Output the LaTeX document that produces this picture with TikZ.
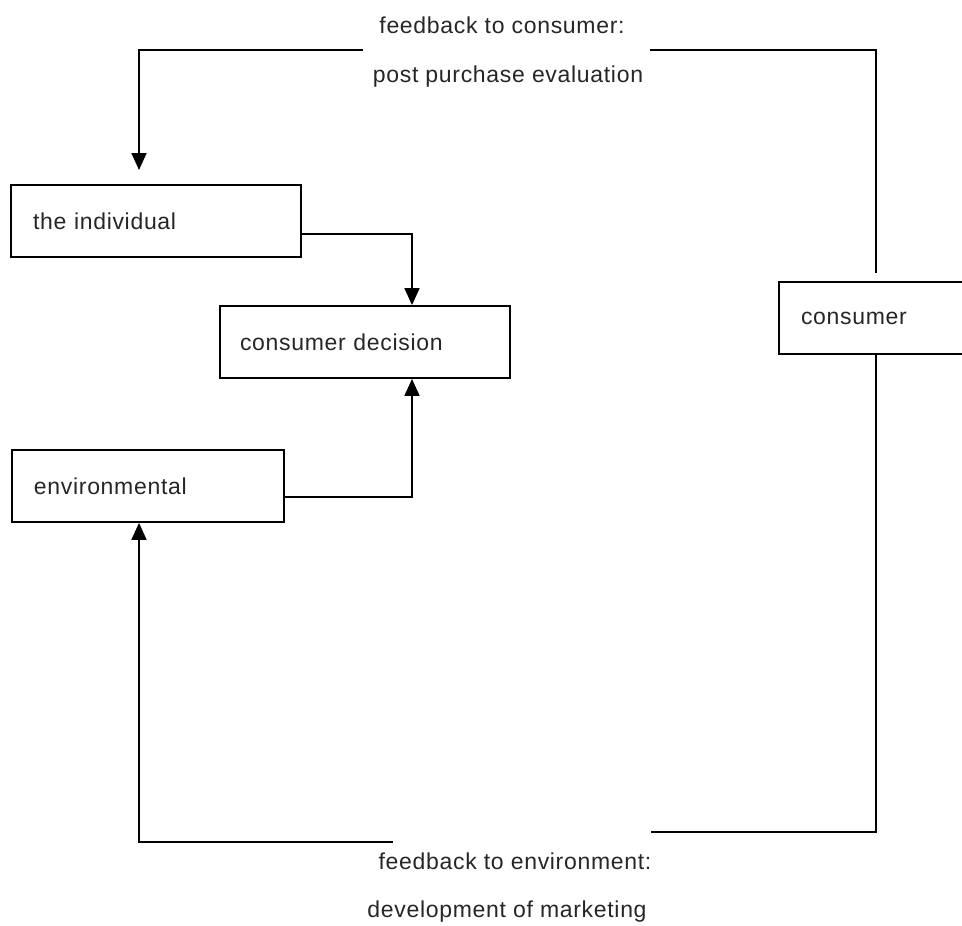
\documentclass[tikz,border=0pt]{standalone}
\usepackage{fontspec}
\setmainfont{Liberation Sans}[LetterSpace=3]
\usetikzlibrary{arrows.meta}
\begin{document}
\begin{tikzpicture}[x=1pt,y=-1pt,
  every node/.style={font=\fontsize{23pt}{27pt}\selectfont,text=black!85},
  box/.style={draw=black,line width=1.8pt,rectangle,minimum height=72pt,inner xsep=0pt,inner ysep=0pt},
  lbl/.style={inner sep=0pt},
  ln/.style={line width=1.8pt},
  arr/.style={ln,-{Triangle[width=15pt,length=17pt]}}]
\useasboundingbox (0,0) rectangle (962,926);
\node[box,minimum width=290pt,text width=246pt,align=left] (ind) at (156,221) {the individual};
\node[box,minimum width=290pt,text width=250pt,align=left] (dec) at (365,342) {consumer decision};
\node[box,minimum width=272pt,text width=228pt,align=left] (env) at (148,486) {environmental};
\node[box,minimum width=186pt,text width=142pt,align=left] (con) at (872,318) {consumer};
\node[lbl] (t1) at (502,25) {feedback to consumer:};
\node[lbl] (t2) at (508,77) {post purchase evaluation};
\node[lbl] (b1) at (515,861) {feedback to environment:};
\node[lbl] (b2) at (507,912) {development of marketing};
\coordinate (tl) at (363,50);
\coordinate (tip) at (139,170);
\coordinate (tr) at (650,50);
\coordinate (ctop) at (876,273);
\coordinate (br) at (651,832);
\coordinate (bl) at (393,842);
\draw[arr] (ind.east |- 0,234) -| ([xshift=47pt]dec.north);
\draw[arr] (env.east |- 0,497) -| ([xshift=47pt]dec.south);
\draw[arr] (tl) -| (tip);
\draw[ln] (tr) -| (ctop);
\draw[ln] (con.south -| ctop) |- (br);
\draw[arr] (bl) -| (env.south -| tip);
\end{tikzpicture}
\end{document}
